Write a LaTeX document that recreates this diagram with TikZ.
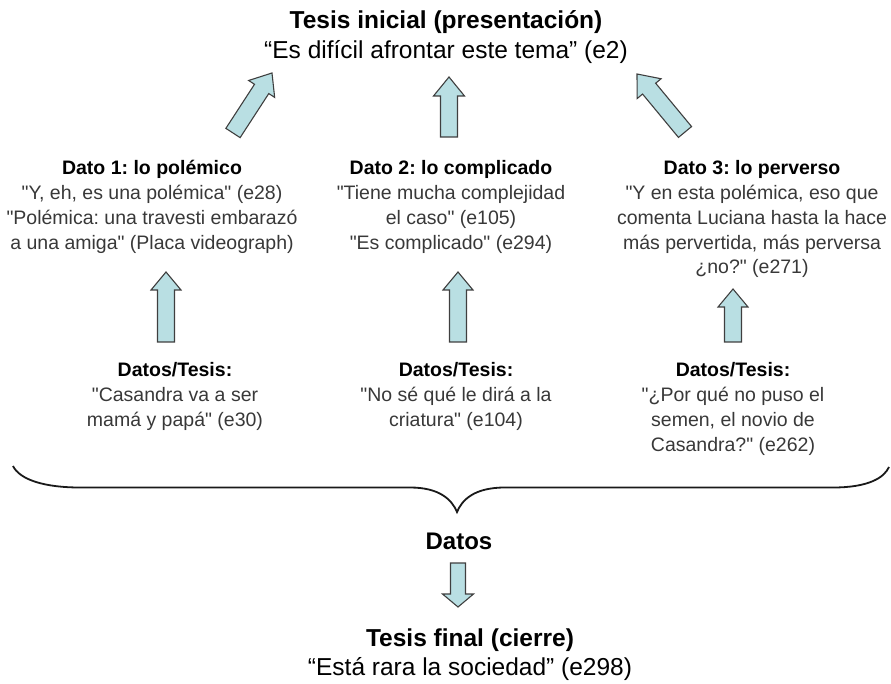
\documentclass[tikz,border=0pt]{standalone}
\usepackage{fontspec}
\setmainfont{Liberation Sans}[Ligatures=TeXOff]
\usetikzlibrary{calc}
\definecolor{arrowfill}{HTML}{B9DFE3}
\definecolor{arrowline}{HTML}{3F3F3F}
\definecolor{quotegray}{HTML}{383838}
\frenchspacing
\newcommand\hdr[1]{{\color{black}\bfseries #1}}
% #1 tail, #2 tip, #3 half shaft, #4 half head, #5 head length
\newcommand\blockarr[5]{%
  \coordinate (ba-h) at ($(#2)!#5!(#1)$);
  \draw[arrowbox] ($(#1)!#3!90:(#2)$) -- ($(ba-h)!#3!90:(#2)$) -- ($(ba-h)!#4!90:(#2)$) -- (#2)
    -- ($(ba-h)!#4!-90:(#2)$) -- ($(ba-h)!#3!-90:(#2)$) -- ($(#1)!#3!-90:(#2)$) -- cycle;
}
\begin{document}
\begin{tikzpicture}[
    x=1pt, y=-1pt,
    every node/.style={inner sep=0, align=center, anchor=north},
    bigtext/.style={font=\fontsize{24.5}{30}\selectfont, text=black},
    smalltext/.style={font=\fontsize{19.5}{24.75}\selectfont, text=quotegray},
    arrowbox/.style={draw=arrowline, fill=arrowfill, line width=1.1pt, line join=miter},
    brace/.style={draw=black!90, line width=1.8pt}
  ]
  \useasboundingbox (0,0) rectangle (891,684);

  \node[bigtext] (inicial) at (446,10.5) {\hdr{Tesis inicial (presentación)}\\“Es difícil afrontar este tema” (e2)};

  \node[smalltext] (dato1) at (152,160.5) {\hdr{Dato 1: lo polémico}\\"Y, eh, es una polémica" (e28)\\"Polémica: una travesti embarazó\\a una amiga" (Placa videograph)};
  \node[smalltext] (dato2) at (451,160.5) {\hdr{Dato 2: lo complicado}\\"Tiene mucha complejidad\\el caso" (e105)\\"Es complicado" (e294)};
  \node[smalltext] (dato3) at (752,160.5) {\hdr{Dato 3: lo perverso}\\"Y en esta polémica, eso que\\comenta Luciana hasta la hace\\más pervertida, más perversa\\¿no?" (e271)};

  \node[smalltext] (tesis1) at (175,362.5) {\hdr{Datos/Tesis:}\\"Casandra va a ser\\mamá y papá" (e30)};
  \node[smalltext] (tesis2) at (456,362.5) {\hdr{Datos/Tesis:}\\"No sé qué le dirá a la\\criatura" (e104)};
  \node[smalltext] (tesis3) at (733,362.5) {\hdr{Datos/Tesis:}\\"¿Por qué no puso el\\semen, el novio de\\Casandra?" (e262)};

  \node[bigtext, font=\fontsize{24}{30}\selectfont] (datos) at (459,533) {\hdr{Datos}};
  \node[bigtext, font=\fontsize{24.5}{29}\selectfont] (final) at (470,628.5) {\hdr{Tesis final (cierre)}\\“Está rara la sociedad” (e298)};

  \coordinate (up1a) at (233,133);
  \coordinate (up1b) at (272,73);
  \coordinate (up2a) at (449,137);
  \coordinate (up2b) at (449,77);
  \coordinate (up3a) at (685,132);
  \coordinate (up3b) at (637,74);
  \coordinate (lo1a) at (166,342);
  \coordinate (lo1b) at (166,272);
  \coordinate (lo2a) at (458,342);
  \coordinate (lo2b) at (458,272);
  \coordinate (lo3a) at (733,342);
  \coordinate (lo3b) at (733,289);
  \coordinate (dna) at (458,563);
  \coordinate (dnb) at (458,607);

  \blockarr{up1a}{up1b}{8.5pt}{15.5pt}{19pt}
  \blockarr{up2a}{up2b}{8.5pt}{15.5pt}{19pt}
  \blockarr{up3a}{up3b}{8.5pt}{15.5pt}{19pt}
  \blockarr{lo1a}{lo1b}{8.5pt}{15pt}{18pt}
  \blockarr{lo2a}{lo2b}{8.5pt}{15pt}{18pt}
  \blockarr{lo3a}{lo3b}{8.5pt}{15pt}{18pt}
  \blockarr{dna}{dnb}{7.5pt}{15.5pt}{13pt}

  \draw[brace] (13,466) .. controls (20,480) and (45,487.5) .. (80,487.5) -- (410,487.5)
    .. controls (440,487.5) and (452,500) .. (457,512)
    .. controls (462,500) and (474,487.5) .. (505,487.5) -- (833,487.5)
    .. controls (868,487.5) and (884,478) .. (889,467);
\end{tikzpicture}
\end{document}
